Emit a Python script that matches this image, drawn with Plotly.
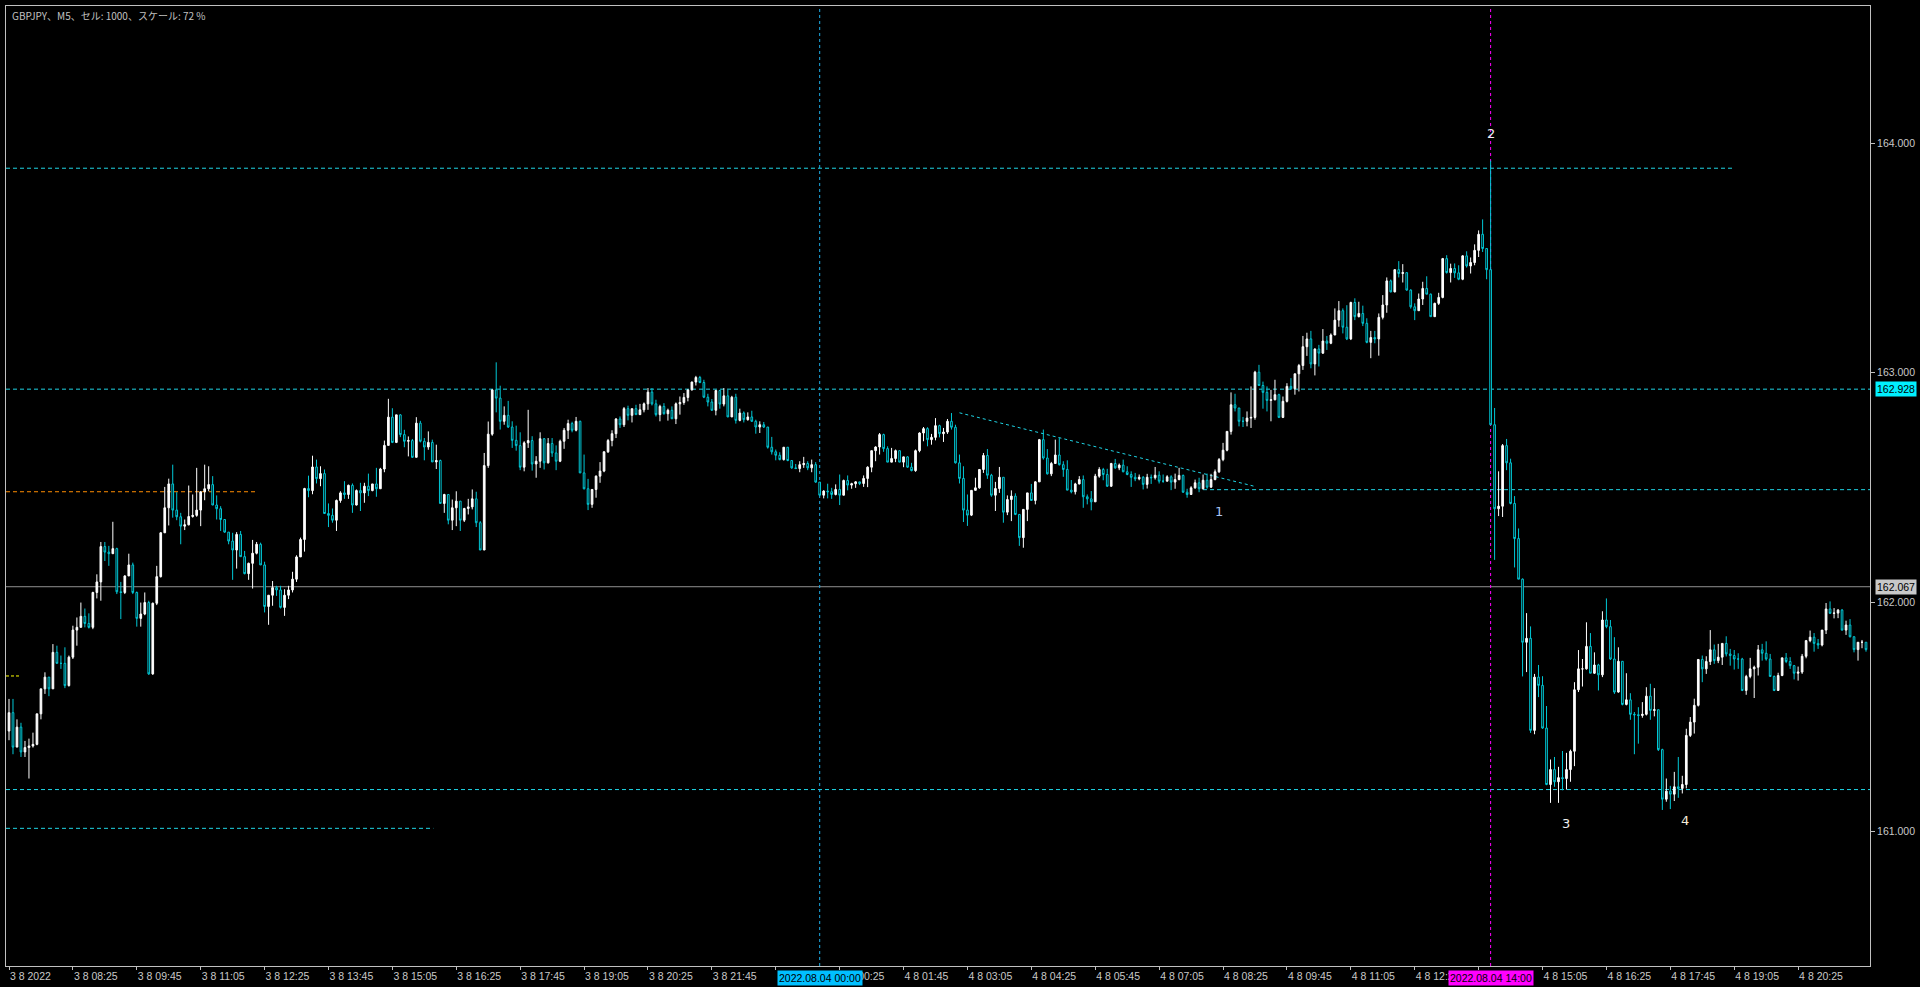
import plotly.graph_objects as go

# ---------------- data (GBPJPY M5, 3 Aug 2022 07:05 -> 4 Aug 2022 21:50) ----------------
first_open = 161.438

close = [
 161.518,161.368,161.455,161.347,161.366,161.373,161.380,161.513,161.622,161.673,
 161.622,161.781,161.733,161.733,161.636,161.760,161.878,161.890,161.938,161.907,
 161.890,162.042,162.088,162.242,162.218,162.211,162.233,162.045,162.042,162.114,
 162.162,162.042,161.929,161.948,161.998,161.687,161.995,162.111,162.302,162.411,
 162.515,162.401,162.372,162.331,162.337,162.373,162.378,162.401,162.481,162.494,
 162.512,162.423,162.407,162.360,162.305,162.266,162.227,162.295,162.198,162.124,
 162.169,162.213,162.252,162.162,161.981,162.030,162.063,162.053,161.977,162.030,
 162.053,162.100,162.197,162.273,162.495,162.486,162.589,162.538,162.560,162.386,
 162.378,162.357,162.443,162.476,162.469,162.509,162.423,162.486,162.476,162.505,
 162.486,162.515,162.494,162.580,162.683,162.806,162.696,162.816,162.730,162.701,
 162.704,162.631,162.780,162.701,162.676,162.696,162.611,162.617,162.430,162.469,
 162.357,162.411,162.440,162.357,162.408,162.415,162.450,162.346,162.227,162.595,
 162.732,162.925,
 162.889,162.788,162.814,162.763,162.705,162.682,162.588,162.694,162.704,162.602,
 162.614,162.712,162.607,162.691,162.650,162.614,162.701,162.749,162.778,162.749,
 162.788,162.563,162.494,162.426,162.491,162.549,162.571,162.655,162.704,162.734,
 162.798,162.773,162.843,162.814,162.843,162.817,162.838,162.864,162.915,162.864,
 162.817,162.853,162.821,162.836,162.799,162.864,162.870,162.892,162.925,162.959,
 162.979,162.957,162.893,162.872,162.836,162.922,162.863,162.899,162.807,162.893,
 162.792,162.824,162.795,162.807,162.788,162.763,162.773,162.763,162.675,162.655,
 162.640,162.621,162.675,162.617,162.585,162.582,162.599,162.604,162.585,162.599,
 162.523,162.466,162.484,162.481,162.469,162.491,162.466,162.530,162.510,162.516,
 162.524,162.517,162.539,162.588,162.660,162.676,162.730,162.669,162.610,162.626,
 162.660,162.610,162.633,162.588,162.573,162.660,162.737,162.756,162.708,162.718,
 162.769,162.734,162.741,162.788,162.762,162.607,162.539,162.401,162.379,
 162.487,162.498,162.578,162.639,162.553,162.466,162.495,162.544,162.392,162.447,
 162.462,162.382,162.281,162.404,162.476,162.443,162.524,162.708,162.628,162.559,
 162.604,162.641,162.599,162.578,162.488,162.481,162.515,162.534,162.459,162.450,
 162.437,162.549,162.578,162.556,162.505,162.604,162.585,162.597,162.568,162.556,
 162.544,162.537,162.544,162.513,162.544,162.542,162.553,162.527,162.527,162.546,
 162.523,162.534,162.552,162.479,162.469,162.498,162.520,162.494,162.531,162.501,
 162.534,162.568,162.621,162.662,162.744,162.860,162.846,162.788,162.788,162.802,
 162.805,163.002,162.944,162.914,162.879,162.882,162.904,162.805,162.875,162.940,
 162.930,162.995,163.031,163.113,163.147,163.038,163.103,163.085,163.138,163.128,
 163.164,163.229,163.270,163.198,163.147,163.306,163.244,163.258,163.215,163.132,
 163.153,163.147,163.241,163.295,163.400,163.352,163.449,163.432,163.436,163.360,
 163.287,163.270,163.321,163.367,163.342,163.244,163.302,163.328,163.497,163.436,
 163.454,
 163.435,163.407,163.509,163.465,163.480,163.533,163.603,163.541,163.449,162.773,
 162.407,162.418,162.682,162.607,162.430,162.277,162.100,
 161.825,161.842,161.441,161.673,161.637,161.451,161.205,161.270,161.217,161.235,
 161.231,161.270,161.350,161.618,161.709,161.709,161.807,161.690,161.726,161.683,
 161.922,161.893,161.752,161.608,161.742,161.554,161.574,161.511,161.509,161.506,
 161.511,161.590,161.528,161.531,161.357,161.141,161.176,161.163,161.195,161.188,
 161.205,161.419,161.477,161.550,161.750,161.709,161.741,161.792,161.745,161.760,
 161.820,161.774,161.767,161.752,161.752,161.615,161.676,161.709,161.716,161.792,
 161.777,161.752,161.676,161.615,161.680,161.757,161.741,161.723,161.690,161.695,
 161.764,161.832,161.847,161.820,161.813,161.878,161.970,161.951,161.952,161.965,
 161.878,161.900,161.849,161.793,161.825,161.825,161.793,
]

high = [
 161.578,161.578,161.489,161.474,161.395,161.405,161.431,161.513,161.622,161.694,
 161.673,161.817,161.810,161.767,161.803,161.767,161.897,161.933,161.998,161.972,
 161.951,162.045,162.121,162.262,162.262,162.245,162.350,162.237,162.088,162.117,
 162.211,162.172,162.046,161.998,162.042,162.006,161.998,162.158,162.305,162.502,
 162.538,162.599,162.479,162.389,162.360,162.508,162.469,162.585,162.483,162.599,
 162.592,162.549,162.465,162.418,162.360,162.305,162.302,162.305,162.310,162.223,
 162.172,162.271,162.262,162.259,162.176,162.030,162.092,162.071,162.071,162.056,
 162.071,162.132,162.204,162.281,162.498,162.551,162.638,162.621,162.592,162.578,
 162.430,162.408,162.447,162.483,162.527,162.512,162.517,162.491,162.520,162.520,
 162.560,162.515,162.585,162.585,162.704,162.886,162.845,162.816,162.819,162.751,
 162.722,162.711,162.806,162.790,162.715,162.744,162.708,162.686,162.621,162.472,
 162.469,162.447,162.483,162.440,162.411,162.450,162.491,162.481,162.353,162.650,
 162.787,162.925,
 163.045,162.943,162.853,162.877,162.788,162.769,162.740,162.701,162.838,162.723,
 162.636,162.740,162.715,162.715,162.715,162.683,162.708,162.759,162.795,162.786,
 162.807,162.791,162.643,162.537,162.491,162.552,162.610,162.657,162.711,162.749,
 162.802,162.809,162.850,162.856,162.843,162.860,162.864,162.870,162.933,162.933,
 162.882,162.860,162.867,162.843,162.853,162.870,162.896,162.911,162.925,162.961,
 162.986,162.986,162.969,162.908,162.885,162.925,162.925,162.933,162.925,162.899,
 162.908,162.843,162.831,162.827,162.834,162.795,162.788,162.785,162.763,162.720,
 162.665,162.653,162.675,162.672,162.614,162.602,162.614,162.633,162.614,162.621,
 162.610,162.523,162.488,162.516,162.498,162.513,162.556,162.534,162.552,162.520,
 162.527,162.524,162.552,162.592,162.660,162.679,162.737,162.734,162.679,162.672,
 162.665,162.660,162.633,162.636,162.607,162.665,162.740,162.763,162.762,162.733,
 162.802,162.773,162.759,162.798,162.824,162.773,162.643,162.592,162.469,
 162.487,162.542,162.578,162.650,162.667,162.559,162.524,162.589,162.544,162.465,
 162.487,162.474,162.382,162.404,162.476,162.515,162.527,162.711,162.752,162.667,
 162.611,162.708,162.715,162.614,162.618,162.532,162.520,162.549,162.552,162.469,
 162.484,162.559,162.588,162.585,162.581,162.607,162.624,162.604,162.621,162.592,
 162.570,162.563,162.556,162.549,162.559,162.556,162.589,162.570,162.556,162.553,
 162.553,162.560,162.585,162.556,162.494,162.505,162.534,162.542,162.556,162.560,
 162.559,162.578,162.628,162.694,162.744,162.914,162.908,162.846,162.807,162.831,
 162.940,163.008,163.034,162.961,162.940,162.925,162.969,162.908,162.896,162.954,
 162.976,162.995,163.038,163.160,163.174,163.182,163.106,163.121,163.190,163.160,
 163.171,163.280,163.312,163.280,163.294,163.309,163.324,163.309,163.292,163.237,
 163.182,163.182,163.258,163.338,163.415,163.406,163.449,163.486,163.473,163.436,
 163.363,163.302,163.345,163.396,163.420,163.345,163.305,163.348,163.500,163.512,
 163.475,
 163.476,163.468,163.512,163.529,163.502,163.559,163.620,163.668,163.541,163.924,
 162.846,162.570,162.689,162.711,162.625,162.462,162.321,
 162.103,161.952,161.894,161.687,161.726,161.677,161.547,161.314,161.325,161.282,
 161.351,161.343,161.357,161.651,161.791,161.752,161.912,161.865,161.781,161.731,
 161.960,162.016,161.922,161.847,161.803,161.742,161.690,161.603,161.521,161.542,
 161.564,161.629,161.644,161.625,161.531,161.361,161.231,161.199,161.260,161.325,
 161.243,161.448,161.499,161.579,161.752,161.767,161.764,161.878,161.815,161.818,
 161.820,161.851,161.796,161.791,161.777,161.757,161.683,161.757,161.723,161.813,
 161.818,161.829,161.774,161.680,161.692,161.757,161.778,161.760,161.726,161.719,
 161.774,161.835,161.876,161.865,161.839,161.878,161.996,162.003,161.974,161.970,
 161.970,161.919,161.926,161.851,161.825,161.835,161.825,
]

low = [
 161.398,161.337,161.368,161.325,161.325,161.231,161.366,161.376,161.489,161.600,
 161.590,161.622,161.733,161.709,161.625,161.632,161.752,161.810,161.890,161.890,
 161.885,161.882,162.016,162.006,162.179,162.158,162.211,162.035,161.926,162.035,
 162.114,162.035,161.893,161.893,161.943,161.683,161.683,161.987,162.107,162.302,
 162.334,162.368,162.357,162.252,162.314,162.334,162.368,162.372,162.331,162.444,
 162.483,162.423,162.360,162.310,162.302,162.252,162.097,162.146,162.198,162.121,
 162.097,162.059,162.208,162.162,161.955,161.901,161.984,162.027,161.972,161.940,
 162.013,162.042,162.088,162.204,162.220,162.457,162.470,162.517,162.505,162.386,
 162.327,162.346,162.310,162.433,162.450,162.450,162.389,162.421,162.397,162.433,
 162.462,162.483,162.459,162.494,162.566,162.683,162.693,162.693,162.719,162.675,
 162.635,162.628,162.635,162.696,162.618,162.664,162.611,162.580,162.430,162.389,
 162.339,162.314,162.331,162.310,162.349,162.382,162.404,162.327,162.227,162.227,
 162.585,162.725,
 162.827,162.752,162.773,162.759,162.672,162.660,162.575,162.570,162.672,162.573,
 162.542,162.585,162.578,162.604,162.633,162.575,162.610,162.668,162.711,162.740,
 162.744,162.563,162.491,162.401,162.411,162.455,162.520,162.566,162.650,162.679,
 162.715,162.759,162.763,162.792,162.783,162.817,162.817,162.827,162.838,162.857,
 162.809,162.788,162.817,162.791,162.798,162.776,162.817,162.860,162.875,162.922,
 162.944,162.954,162.889,162.853,162.834,162.814,162.843,162.853,162.807,162.807,
 162.778,162.788,162.783,162.791,162.785,162.734,162.737,162.759,162.669,162.643,
 162.618,162.618,162.617,162.614,162.581,162.581,162.566,162.585,162.575,162.566,
 162.520,162.462,162.452,162.452,162.450,162.465,162.423,162.465,162.487,162.494,
 162.498,162.510,162.502,162.501,162.566,162.614,162.643,162.655,162.610,162.610,
 162.610,162.610,162.588,162.585,162.570,162.568,162.653,162.701,162.679,162.686,
 162.705,162.718,162.698,162.733,162.752,162.604,162.517,162.349,162.332,
 162.375,162.491,162.494,162.563,162.537,162.459,162.397,162.476,162.346,162.379,
 162.353,162.379,162.245,162.237,162.353,162.443,162.426,162.524,162.621,162.556,
 162.549,162.604,162.595,162.546,162.488,162.474,162.469,162.513,162.411,162.426,
 162.400,162.437,162.542,162.531,162.502,162.502,162.581,162.575,162.566,162.553,
 162.502,162.527,162.531,162.491,162.495,162.515,162.534,162.517,162.520,162.527,
 162.488,162.494,162.531,162.476,162.455,162.469,162.494,162.479,162.491,162.494,
 162.498,162.531,162.563,162.614,162.657,162.730,162.831,162.766,162.763,162.766,
 162.759,162.795,162.944,162.843,162.831,162.788,162.879,162.802,162.802,162.870,
 162.925,162.904,162.918,163.012,163.073,163.019,162.988,163.027,163.082,163.099,
 163.124,163.164,163.200,163.171,163.142,163.142,163.229,163.241,163.203,163.128,
 163.063,163.128,163.074,163.232,163.261,163.350,163.350,163.415,163.393,163.357,
 163.279,163.229,163.270,163.295,163.342,163.244,163.244,163.295,163.324,163.432,
 163.393,
 163.413,163.403,163.403,163.458,163.432,163.468,163.504,163.526,163.407,162.773,
 162.184,162.375,162.371,162.575,162.426,162.151,162.100,
 161.676,161.695,161.430,161.424,161.586,161.448,161.202,161.125,161.195,161.125,
 161.180,161.183,161.217,161.285,161.608,161.632,161.706,161.690,161.687,161.615,
 161.673,161.886,161.748,161.600,161.605,161.550,161.550,161.487,161.337,161.383,
 161.496,161.506,161.487,161.502,161.351,161.094,161.130,161.098,161.133,161.147,
 161.166,161.188,161.412,161.427,161.545,161.651,161.687,161.726,161.731,161.734,
 161.726,161.763,161.723,161.706,161.709,161.612,161.596,161.668,161.582,161.680,
 161.745,161.745,161.676,161.612,161.615,161.677,161.734,161.709,161.663,161.658,
 161.687,161.755,161.825,161.784,161.796,161.807,161.861,161.948,161.929,161.930,
 161.876,161.857,161.846,161.781,161.745,161.799,161.784,
]

tick_idx = list(range(0, 449, 16))
# labels hidden behind the 00:00 / 14:00 cursor boxes in the reference are left blank
tick_text = [
 "3 8 2022", "3 8 08:25", "3 8 09:45", "3 8 11:05", "3 8 12:25", "3 8 13:45",
 "3 8 15:05", "3 8 16:25", "3 8 17:45", "3 8 19:05", "3 8 20:25", "3 8 21:45",
 "", "4 8 00:25", "4 8 01:45", "4 8 03:05", "4 8 04:25", "4 8 05:45",
 "4 8 07:05", "4 8 08:25", "4 8 09:45", "4 8 11:05", "4 8 12:25", "",
 "4 8 15:05", "4 8 16:25", "4 8 17:45", "4 8 19:05", "4 8 20:25",
]
price_ticks = [161.0, 162.0, 163.0, 164.0]

# horizontal levels
level_top = 163.891
level_ask = 162.928
level_mid = 162.490
level_low1 = 161.183
level_low2 = 161.014
level_orange = 162.481
level_yellow = 161.678
level_bid = 162.067
trend_pts = [(238, 162.825), (312.25, 162.503)]
vline_00 = 203
vline_14 = 371
wave_labels = [("1", 303, 162.397), ("2", 371, 164.044), ("3", 389.9, 161.033), ("4", 419.75, 161.049)]

# ---------------- build ----------------
n = min(len(close), len(high), len(low))
close, high, low = close[:n], high[:n], low[:n]
xs = list(range(n))
opens = [first_open] + close[:-1]
highs = [max(h, o, c) for h, o, c in zip(high, opens, close)]
lows = [min(l, o, c) for l, o, c in zip(low, opens, close)]

CYAN_C = "#00c8d6"
CYAN_L = "#1fd4e4"
GRID_TXT = "#c8c8c8"

fig = go.Figure()
fig.add_trace(go.Candlestick(
    x=xs, open=opens, high=highs, low=lows, close=close,
    increasing=dict(line=dict(color="#ffffff", width=1), fillcolor="#ffffff"),
    decreasing=dict(line=dict(color=CYAN_C, width=1), fillcolor="#000000"),
    whiskerwidth=0, showlegend=False, hoverinfo="skip",
))

XMIN, XMAX = -0.75, 466
YMIN, YMAX = 160.414, 164.598

shapes = []
def hline(y, x0, x1, color, dash, xref="x", width=1):
    shapes.append(dict(type="line", xref=xref, yref="y", x0=x0, x1=x1, y0=y, y1=y,
                       line=dict(color=color, width=width, dash=dash), layer="below"))

hline(level_top, XMIN, 431.5, CYAN_L, "4px,3px")
hline(level_ask, 0, 1, CYAN_L, "4px,3px", xref="paper")
hline(level_mid, 299, XMAX, CYAN_L, "4px,3px")
hline(level_low1, 0, 1, CYAN_L, "4px,3px", xref="paper")
hline(level_low2, XMIN, 106.25, CYAN_L, "4px,3px")
hline(level_orange, XMIN, 61.75, "#ff8c00", "4px,3px")
hline(level_yellow, XMIN, 2.75, "#ffff00", "3px,2px")
hline(level_bid, 0, 1, "#909090", "solid", xref="paper")
shapes.append(dict(type="line", xref="x", yref="y",
                   x0=trend_pts[0][0], y0=trend_pts[0][1], x1=trend_pts[1][0], y1=trend_pts[1][1],
                   line=dict(color=CYAN_L, width=1, dash="3px,3px"), layer="below"))
shapes.append(dict(type="line", xref="x", yref="paper", x0=vline_00, x1=vline_00, y0=0, y1=1,
                   line=dict(color="#1eaee8", width=1, dash="3px,3px"), layer="below"))
shapes.append(dict(type="line", xref="x", yref="paper", x0=vline_14, x1=vline_14, y0=0, y1=1,
                   line=dict(color="#ff00ff", width=1, dash="3px,3px"), layer="below"))

annotations = []
annotations.append(dict(text="GBPJPY、M5、セル: 1000、スケール: 72 %", xref="paper", yref="paper",
                        x=0.0021, y=0.9896, xanchor="left", yanchor="middle", showarrow=False,
                        font=dict(family="Noto Sans CJK JP", size=10, color="#c0c0c0")))
annotations.append(dict(text=f"{level_ask:.3f}", xref="paper", yref="y", x=1, y=level_ask,
                        xanchor="left", yanchor="middle", xshift=5, showarrow=False,
                        bgcolor="#00f0ff", borderpad=1,
                        font=dict(family="Liberation Sans", size=10.5, color="#000000")))
annotations.append(dict(text=f"{level_bid:.3f}", xref="paper", yref="y", x=1, y=level_bid,
                        xanchor="left", yanchor="middle", xshift=5, showarrow=False,
                        bgcolor="#c8c8c8", borderpad=1,
                        font=dict(family="Liberation Sans", size=10.5, color="#000000")))
annotations.append(dict(text="2022.08.04 00:00", xref="x", yref="paper", x=vline_00, y=-0.0125,
                        xanchor="center", yanchor="middle", showarrow=False,
                        bgcolor="#00bfff", borderpad=1,
                        font=dict(family="Liberation Sans", size=10.5, color="#000000")))
annotations.append(dict(text="2022.08.04 14:00", xref="x", yref="paper", x=vline_14, y=-0.0125,
                        xanchor="center", yanchor="middle", showarrow=False,
                        bgcolor="#ff00ff", borderpad=1,
                        font=dict(family="Liberation Sans", size=10.5, color="#000000")))
wave_colors = {"1": "#a8c4f0", "2": "#f0f0f0", "3": "#f0f0f0", "4": "#f4ecd8"}
for t, xv, yv in wave_labels:
    annotations.append(dict(text=t, xref="x", yref="y", x=xv, y=yv, showarrow=False,
                            xanchor="center", yanchor="middle",
                            font=dict(family="DejaVu Sans", size=13, color=wave_colors[t])))

fig.update_layout(
    width=1920, height=987,
    margin=dict(l=5, r=48, t=5, b=19),
    paper_bgcolor="#000000", plot_bgcolor="#000000",
    boxgap=0.4,
    showlegend=False, hovermode=False,
    shapes=shapes, annotations=annotations,
    xaxis=dict(range=[XMIN, XMAX], showgrid=False, zeroline=False,
               showline=True, linecolor="#c0c0c0", linewidth=1, mirror=True,
               ticks="outside", ticklen=3, tickcolor="#c0c0c0",
               tickvals=tick_idx, ticktext=tick_text, ticklabelposition="outside right",
               tickfont=dict(family="Liberation Sans", size=10.5, color=GRID_TXT),
               rangeslider=dict(visible=False), fixedrange=True),
    yaxis=dict(range=[YMIN, YMAX], side="right", showgrid=False, zeroline=False,
               showline=True, linecolor="#c0c0c0", linewidth=1, mirror=True,
               ticks="outside", ticklen=4, tickcolor="#c0c0c0",
               tickvals=price_ticks, ticktext=[f"{v:.3f}" for v in price_ticks],
               tickfont=dict(family="Liberation Sans", size=10.5, color=GRID_TXT),
               fixedrange=True),
)

fig.write_html("out.html", config={"displayModeBar": False},
               post_script="document.body.style.margin='0';document.body.style.background='#000';")
